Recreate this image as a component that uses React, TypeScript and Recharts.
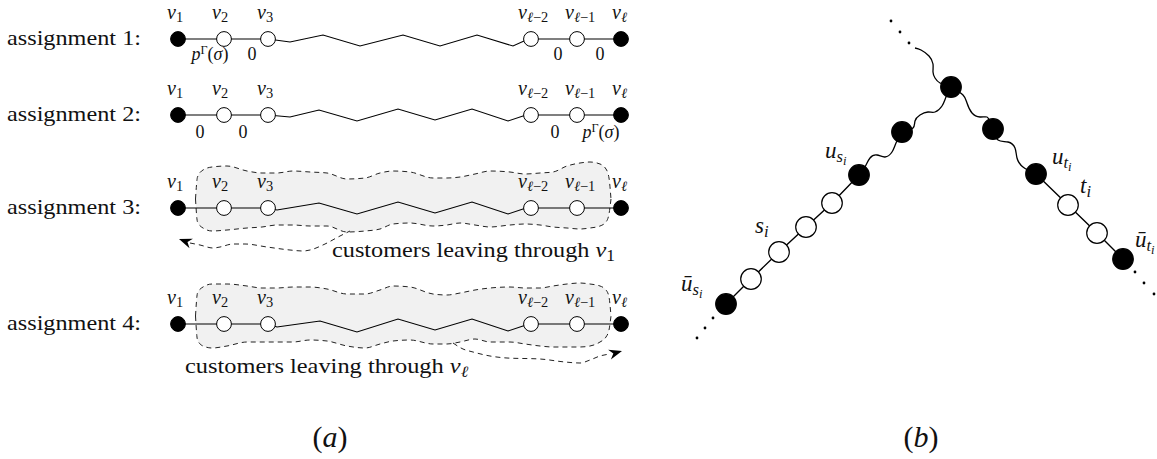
import React from 'react';
import { ComposedChart, XAxis, YAxis, Line, Scatter, Area } from 'recharts';

type Kind = 'i' | 'r' | 'si' | 'sr' | 'ssi' | 'pr';
type Part = [string, Kind];

const W = 1157;
const H = 459;
const FONT = 'Liberation Serif';

// ---------- panel (a) ----------
const rowY = [39, 115, 208, 324];
const rowTitles = ['assignment 1:', 'assignment 2:', 'assignment 3:', 'assignment 4:'];
const rowTitleX = 7;
const vertexX = [178, 224, 268, 531, 577, 621];
const vertexFilled = [true, false, false, false, false, true];
const vertexLabelX = [167, 212, 257, 518, 565, 612];
const vertexNames: Part[][] = [
  [['v', 'i'], ['1', 'sr']],
  [['v', 'i'], ['2', 'sr']],
  [['v', 'i'], ['3', 'sr']],
  [['v', 'i'], ['ℓ', 'si'], ['−2', 'sr']],
  [['v', 'i'], ['ℓ', 'si'], ['−1', 'sr']],
  [['v', 'i'], ['ℓ', 'si']],
];

const zigX = [
  [290, 323, 360, 403, 440, 477, 513, 524],
  [290, 319, 357, 398, 435, 472, 508, 523],
  [277, 319, 357, 398, 435, 472, 508, 523],
  [277, 320, 357, 398, 435, 472, 508, 523],
];
const zigY = [
  [42, 35, 46, 35, 46, 35, 46, 41],
  [117, 110, 121, 109, 120, 109, 121, 116],
  [210, 203, 214, 202, 213, 202, 214, 209],
  [327, 321, 332, 319, 330, 319, 331, 326],
];

const pGamma: Part[] = [['p', 'i'], ['Γ', 'pr'], ['(', 'r'], ['σ', 'i'], [')', 'r']];
const zero: Part[] = [['0', 'r']];
const edgeLabelRow1X = [210, 252, 558, 600];
const edgeLabelRow1 = [pGamma, zero, zero, zero];
const edgeLabelRow1Y = 60;
const edgeLabelRow2X = [200, 243, 555, 601];
const edgeLabelRow2 = [zero, zero, zero, pGamma];
const edgeLabelRow2Y = 138;

// shaded group outline (x positions, top / bottom edges)
const blobX = [195.5, 197.5, 203, 212, 227, 247, 262, 277, 293, 310, 327, 347, 365, 380, 393, 410, 433, 447, 460, 475, 490, 510, 525, 540, 553, 567, 580, 590, 600, 606, 609, 611];
const blob3Top = [199, 177, 170, 167, 166, 171, 173, 173, 171, 172, 173, 179, 178, 173, 171, 172, 178, 178, 177, 174, 171, 172, 174, 173, 172, 166, 163, 162, 164, 169, 178, 199];
const blob3Bottom = [199, 222, 228, 231, 230, 228, 227, 225, 225, 226, 226, 232, 231, 229, 224, 223, 226, 225, 223, 225, 227, 225, 224, 225, 227, 228, 229, 228, 226, 222, 214, 199];
const blob4Top = [316, 293, 287, 284, 284, 286, 288, 288, 287, 287, 289, 294, 294, 290, 286, 287, 294, 295, 293, 290, 288, 287, 288, 288, 286, 284, 283, 284, 286, 290, 297, 316];
const blob4Bottom = [316, 340, 346, 348, 346, 342, 342, 342, 342, 340, 341, 346, 348, 344, 341, 340, 344, 344, 342, 339, 342, 342, 344, 346, 347, 347, 347, 346, 342, 337, 330, 316];

const arrow3X = [190, 200, 213, 220, 233, 245, 267, 290, 303, 310, 325, 340, 350];
const arrow3Y = [243, 245, 248, 247, 244, 244, 247, 250, 251, 250, 244, 236, 231];
const arrow4X = [453, 463, 473, 490, 507, 540, 565, 580, 590, 600, 610];
const arrow4Y = [343, 349, 352, 356, 358, 359, 362, 363, 360, 356, 354];
const arrowHeads = [
  { x: 179, y: 239, angle: 200 },
  { x: 622, y: 351, angle: -16 },
];

const customersText: Part[][] = [
  [['customers leaving through ', 'r'], ['v', 'i'], ['1', 'sr']],
  [['customers leaving through ', 'r'], ['v', 'i'], ['ℓ', 'si']],
];
const customersX = [332, 185];
const customersY = [257, 373];

const panelTitles: Part[][] = [
  [['(', 'r'], ['a', 'i'], [')', 'r']],
  [['(', 'r'], ['b', 'i'], [')', 'r']],
];
const panelTitleX = [330, 921];
const panelTitleY = 447;

// ---------- panel (b) ----------
const bFilledX = [951, 902, 859, 726, 993, 1036, 1123];
const bFilledY = [87, 132, 175, 304, 129, 174, 259];
const bOpenX = [832, 806, 779, 751, 1068, 1097];
const bOpenY = [203, 227, 252, 279, 205, 233];
const bLeftChainX = [859, 832, 806, 779, 751, 726];
const bLeftChainY = [175, 203, 227, 252, 279, 304];
const bRightChainX = [1036, 1068, 1097, 1123];
const bRightChainY = [174, 205, 233, 259];
const wiggles: { x: number[]; y: number[] }[] = [
  { x: [915, 921, 929, 933, 933, 935, 940, 947, 951], y: [48, 50, 56, 64, 72, 78, 83, 85, 87] },
  { x: [951, 946, 942, 935, 928, 920, 915, 913, 902], y: [87, 97, 106, 112, 112, 115, 121, 128, 132] },
  { x: [902, 896, 892, 885, 877, 870, 865, 859], y: [132, 143, 152, 157, 155, 158, 167, 175] },
  { x: [951, 963, 967, 972, 980, 987, 990, 993], y: [87, 95, 103, 113, 117, 117, 122, 129] },
  { x: [993, 998, 1008, 1015, 1017, 1023, 1036], y: [129, 140, 142, 148, 158, 167, 174] },
];
const bDotsX = [891, 900, 909, 713, 705, 697, 1135, 1144, 1154];
const bDotsY = [21, 32, 43, 318, 328, 338, 272, 283, 294];
const bLabelX = [825, 1052, 1080, 755, 681, 1135];
const bLabelY = [158, 164, 193, 233, 291, 247];
const bLabels: Part[][] = [
  [['u', 'i'], ['s', 'si'], ['i', 'ssi']],
  [['u', 'i'], ['t', 'si'], ['i', 'ssi']],
  [['t', 'i'], ['i', 'si']],
  [['s', 'i'], ['i', 'si']],
  [['ū', 'i'], ['s', 'si'], ['i', 'ssi']],
  [['ū', 'i'], ['t', 'si'], ['i', 'ssi']],
];

// ---------- derived series ----------
const pts = (xs: number[], ys: number[]) => xs.map((x, i) => ({ x, y: ys[i] }));

const rowPaths = rowY.map((y, r) => [
  ...vertexX.slice(0, 3).map((x) => ({ x, y })),
  ...pts(zigX[r], zigY[r]),
  ...vertexX.slice(3).map((x) => ({ x, y })),
]);
const rowFilledNodes = rowY.flatMap((y) => vertexX.filter((_, i) => vertexFilled[i]).map((x) => ({ x, y })));
const rowOpenNodes = rowY.flatMap((y) => vertexX.filter((_, i) => !vertexFilled[i]).map((x) => ({ x, y })));
const vertexLabels = rowY.flatMap((y) => vertexX.map((_, i) => ({ x: vertexLabelX[i], y: y - 20, parts: vertexNames[i] })));
const edgeLabels = [
  ...edgeLabelRow1X.map((x, i) => ({ x, y: edgeLabelRow1Y, parts: edgeLabelRow1[i] })),
  ...edgeLabelRow2X.map((x, i) => ({ x, y: edgeLabelRow2Y, parts: edgeLabelRow2[i] })),
];
const titleData = rowY.map((y, i) => ({ x: rowTitleX, y: y + 6, parts: [[rowTitles[i], 'r']] as Part[] }));
const customersData = customersX.map((x, i) => ({ x, y: customersY[i], parts: customersText[i] }));
const panelData = panelTitleX.map((x, i) => ({ x, y: panelTitleY, parts: panelTitles[i] }));
const blob3 = blobX.map((x, i) => ({ x, r: [blob3Top[i], blob3Bottom[i]] }));
const blob4 = blobX.map((x, i) => ({ x, r: [blob4Top[i], blob4Bottom[i]] }));
const bLabelData = bLabelX.map((x, i) => ({ x, y: bLabelY[i], parts: bLabels[i] }));

// ---------- shapes ----------
const textShape = (size: number, anchor: string, length?: number) => (p: any) => {
  const parts: Part[] = p.payload.parts;
  let cur = 0;
  const spans = parts.map(([t, k], i) => {
    let off = 0;
    let fs = size;
    let italic = false;
    if (k === 'i') italic = true;
    if (k === 'si' || k === 'sr') { off = 0.17 * size; fs = 0.72 * size; italic = k === 'si'; }
    if (k === 'ssi') { off = 0.32 * size; fs = 0.55 * size; italic = true; }
    if (k === 'pr') { off = -0.36 * size; fs = 0.68 * size; }
    const dy = off - cur;
    cur = off;
    return (
      <tspan key={i} dy={dy} fontSize={fs} fontFamily={FONT} fontStyle={italic ? 'italic' : 'normal'}>
        {t}
      </tspan>
    );
  });
  const extra: any = length ? { textLength: length, lengthAdjust: 'spacingAndGlyphs' } : {};
  return (
    <text x={p.cx} y={p.cy} fontFamily={FONT} fontSize={size} textAnchor={anchor} fill="#111" {...extra}>
      {spans}
    </text>
  );
};
const nodeShape = (filled: boolean, r: number, sw: number) => (p: any) => (
  <circle cx={p.cx} cy={p.cy} r={r} fill={filled ? '#000' : '#fff'} stroke="#000" strokeWidth={sw} />
);
const dotShape = (p: any) => <circle cx={p.cx} cy={p.cy} r={1.4} fill="#000" />;
const arrowShape = (p: any) => (
  <path
    d="M0,0 L-13,-5 L-9,0 L-13,5 Z"
    fill="#000"
    transform={`translate(${p.cx},${p.cy}) rotate(${p.payload.angle})`}
  />
);

export default function App() {
  return (
    <div style={{ position: 'absolute', left: 0, top: 0, width: W, height: H, background: '#fff', fontFamily: FONT }}>
      <ComposedChart width={W} height={H} margin={{ top: 0, right: 0, bottom: 0, left: 0 }}>
        <XAxis type="number" dataKey="x" domain={[0, W]} hide allowDataOverflow />
        <YAxis type="number" dataKey="y" domain={[0, H]} reversed hide allowDataOverflow />

        <Area data={blob3} dataKey="r" type="monotone" fill="#f1f1f1" fillOpacity={1} stroke="#222" strokeWidth={1} strokeDasharray="5 4" isAnimationActive={false} dot={false} activeDot={false} />
        <Area data={blob4} dataKey="r" type="monotone" fill="#f1f1f1" fillOpacity={1} stroke="#222" strokeWidth={1} strokeDasharray="5 4" isAnimationActive={false} dot={false} activeDot={false} />

        <Line data={pts(arrow3X, arrow3Y)} dataKey="y" type="monotone" stroke="#222" strokeWidth={1} strokeDasharray="5 4" dot={false} activeDot={false} isAnimationActive={false} />
        <Line data={pts(arrow4X, arrow4Y)} dataKey="y" type="monotone" stroke="#222" strokeWidth={1} strokeDasharray="5 4" dot={false} activeDot={false} isAnimationActive={false} />

        {rowPaths.map((d, i) => (
          <Line key={`row${i}`} data={d} dataKey="y" type="linear" stroke="#000" strokeWidth={1.1} dot={false} activeDot={false} isAnimationActive={false} />
        ))}

        <Line data={pts(bLeftChainX, bLeftChainY)} dataKey="y" type="linear" stroke="#000" strokeWidth={1.4} dot={false} activeDot={false} isAnimationActive={false} />
        <Line data={pts(bRightChainX, bRightChainY)} dataKey="y" type="linear" stroke="#000" strokeWidth={1.4} dot={false} activeDot={false} isAnimationActive={false} />
        {wiggles.map((w, i) => (
          <Line key={`w${i}`} data={pts(w.x, w.y)} dataKey="y" type="natural" stroke="#000" strokeWidth={1.3} dot={false} activeDot={false} isAnimationActive={false} />
        ))}

        <Scatter data={rowFilledNodes} shape={nodeShape(true, 7.4, 1)} isAnimationActive={false} />
        <Scatter data={rowOpenNodes} shape={nodeShape(false, 7.4, 1)} isAnimationActive={false} />
        <Scatter data={pts(bFilledX, bFilledY)} shape={nodeShape(true, 10.3, 1.2)} isAnimationActive={false} />
        <Scatter data={pts(bOpenX, bOpenY)} shape={nodeShape(false, 10.3, 1.2)} isAnimationActive={false} />
        <Scatter data={pts(bDotsX, bDotsY)} shape={dotShape} isAnimationActive={false} />
        <Scatter data={arrowHeads} shape={arrowShape} isAnimationActive={false} />

        <Scatter data={titleData} shape={textShape(21, 'start', 134)} isAnimationActive={false} />
        <Scatter data={vertexLabels} shape={textShape(20, 'start')} isAnimationActive={false} />
        <Scatter data={edgeLabels} shape={textShape(18, 'middle')} isAnimationActive={false} />
        <Scatter data={customersData} shape={textShape(22, 'start', 283)} isAnimationActive={false} />
        <Scatter data={bLabelData} shape={textShape(23, 'start')} isAnimationActive={false} />
        <Scatter data={panelData} shape={textShape(30, 'middle')} isAnimationActive={false} />
      </ComposedChart>
    </div>
  );
}
